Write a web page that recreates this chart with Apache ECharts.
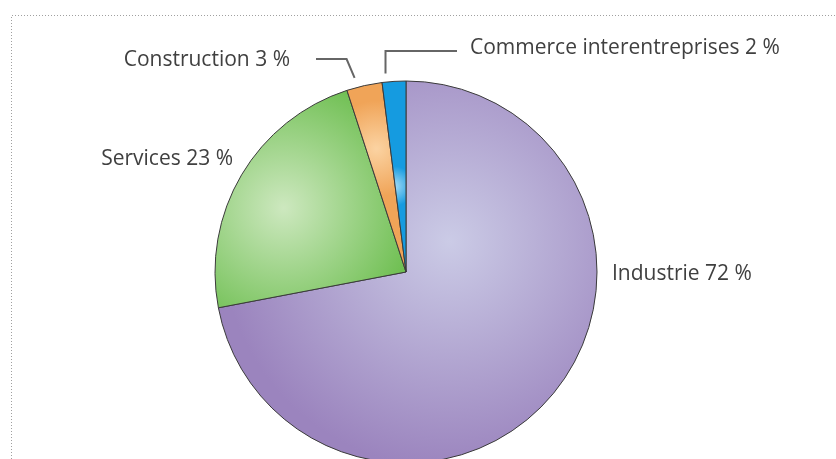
<!DOCTYPE html>
<html>
<head>
<meta charset="utf-8">
<script src="https://cdn.jsdelivr.net/npm/echarts@6/dist/echarts.min.js"></script>
<style>
  html, body { margin: 0; padding: 0; background: #fff; }
  #chart { width: 836px; height: 459px; }
</style>
</head>
<body>
<div id="chart"></div>
<script>
// secteurs, dans l'ordre horaire depuis midi
var categories = ["Industrie", "Services", "Construction", "Commerce interentreprises"];
var values = [72, 23, 3, 2];

var center = [406, 272];
var radius = 191;

// couleurs: [clair, foncé] + centre du dégradé (relatif à la boîte du secteur)
var colorList = [
  { light: "#cbcbe6", dark: "#9b84be", x: 0.61, y: 0.42, r: 0.6 },
  { light: "#cde8bf", dark: "#6fbf52", x: 0.36, y: 0.54, r: 0.7 },
  { light: "#fbd3a2", dark: "#f0a458", x: 0.5, y: 0.35, r: 0.8 },
  { light: "#a6dcf6", dark: "#159be0", x: 0.5, y: 0.55, r: 0.8 }
];

// position des étiquettes
var labelPos = [
  { x: 612, y: 274, align: "left" },
  { x: 233, y: 159, align: "right" },
  { x: 290, y: 60, align: "right" },
  { x: 470, y: 48, align: "left" }
];

var chart = echarts.init(document.getElementById("chart"));

var datas = [];
for (var i = 0; i < categories.length; i++) {
  var c = colorList[i];
  datas.push({
    name: categories[i],
    value: values[i],
    itemStyle: {
      color: {
        type: "radial",
        x: c.x, y: c.y, r: c.r,
        colorStops: [
          { offset: 0, color: c.light },
          { offset: 1, color: c.dark }
        ]
      }
    },
    labelLine: { show: i >= 2 }
  });
}

// angle milieu (radians, horaire depuis midi) de chaque secteur
function midAngle(idx) {
  var total = 0, before = 0;
  for (var k = 0; k < values.length; k++) {
    total += values[k];
    if (k < idx) before += values[k];
  }
  return ((before + values[idx] / 2) / total) * Math.PI * 2;
}

function leader(idx) {
  var a = midAngle(idx);
  var r0 = radius + 8;
  var sx = center[0] + Math.sin(a) * r0 - 8;
  var sy = center[1] - Math.cos(a) * r0;
  var p = labelPos[idx];
  if (idx === 2) {
    return [[sx, sy], [sx - 8, p.y - 1], [p.x + 26, p.y - 1]];
  }
  return [[sx, sy], [sx, p.y + 3], [p.x - 13, p.y + 3]];
}

var option = {
  animation: false,
  graphic: [
    {
      type: "polyline",
      shape: { points: [[11.5, 459], [11.5, 15.5], [836, 15.5]] },
      style: { stroke: "#a0a0a0", fill: null, lineWidth: 1, lineDash: [1, 2] },
      silent: true
    }
  ],
  series: [
    {
      type: "pie",
      center: center,
      radius: radius,
      startAngle: 90,
      clockwise: true,
      data: datas,
      itemStyle: {
        borderColor: "#3a3a3a",
        borderWidth: 1
      },
      label: {
        show: true,
        position: "outside",
        formatter: "{b} {c} %",
        color: "#404040",
        fontFamily: "Open Sans",
        fontSize: 21
      },
      labelLine: {
        lineStyle: { color: "#666", width: 2 }
      },
      labelLayout: function(params) {
        var p = labelPos[params.dataIndex];
        var res = {
          x: p.x,
          y: p.y,
          align: p.align,
          verticalAlign: "middle"
        };
        if (params.dataIndex >= 2) res.labelLinePoints = leader(params.dataIndex);
        return res;
      }
    }
  ]
};
chart.setOption(option);
</script>
</body>
</html>
